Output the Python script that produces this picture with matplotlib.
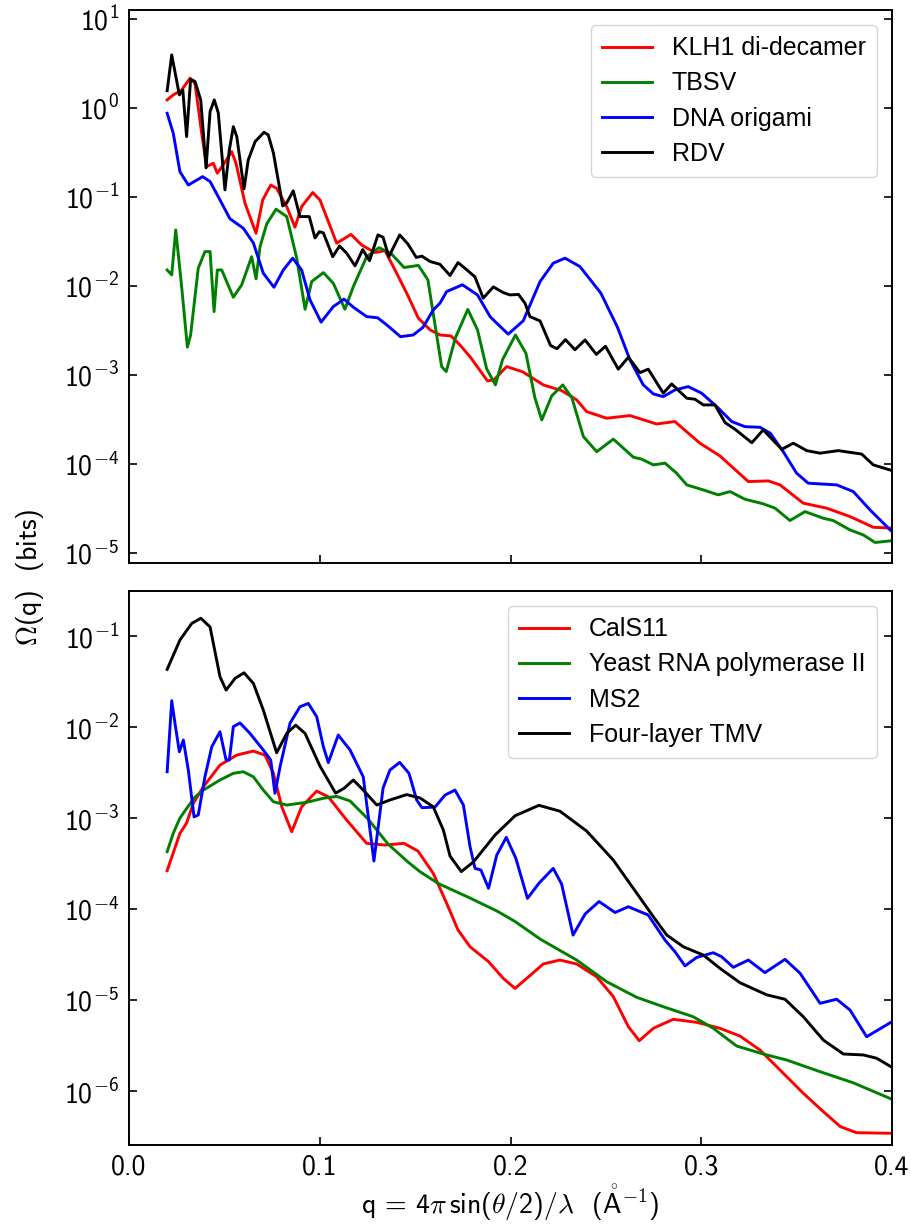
import numpy as np
import matplotlib
matplotlib.use("Agg")
import matplotlib.pyplot as plt
from matplotlib.ticker import NullLocator, FixedLocator, FuncFormatter

plt.rcParams["font.family"] = ["Liberation Sans", "DejaVu Sans"]
plt.rcParams["mathtext.fontset"] = "custom"
plt.rcParams["mathtext.rm"] = "cmss10"
plt.rcParams["mathtext.sf"] = "cmss10"
plt.rcParams["mathtext.it"] = "cmss10"
plt.rcParams["mathtext.bf"] = "cmss10"
plt.rcParams["mathtext.fallback"] = "cm"

# ---------------- upper panel: large assemblies ----------------
klh1_q = [0.0200, 0.0232, 0.0276, 0.0320, 0.0346, 0.0381, 0.0407, 0.0442, 0.0463, 0.0494,
          0.0538, 0.0561, 0.0608, 0.0666, 0.0701, 0.0743, 0.0774, 0.0827, 0.0870, 0.0905,
          0.0963, 0.1001, 0.1089, 0.1164, 0.1219, 0.1290, 0.1342, 0.1403, 0.1456, 0.1517,
          0.1578, 0.1630, 0.1688, 0.1735, 0.1793, 0.1879, 0.1913, 0.1980, 0.2065, 0.2172,
          0.2268, 0.2347, 0.2399, 0.2504, 0.2626, 0.2766, 0.2862, 0.2993, 0.3098, 0.3247,
          0.3352, 0.3413, 0.3535, 0.3658, 0.3780, 0.3902, 0.4000]
klh1_omega = [1.23, 1.40, 1.59, 2.16, 1.89, 0.520, 0.219, 0.239, 0.185, 0.229,
              0.323, 0.239, 0.0850, 0.0391, 0.0925, 0.136, 0.125, 0.0778, 0.0457, 0.0778,
              0.112, 0.0925, 0.0302, 0.0379, 0.0289, 0.0237, 0.0249, 0.0139, 0.00828, 0.00434,
              0.00321, 0.00281, 0.00274, 0.00217, 0.00155, 0.000857, 0.000879, 0.00124, 0.00108, 0.000772,
              0.000667, 0.000524, 0.000387, 0.000326, 0.000349, 0.000281, 0.000299, 0.000171, 0.000123, 0.0000633,
              0.0000644, 0.0000581, 0.0000362, 0.0000318, 0.0000256, 0.0000194, 0.0000190]

tbsv_q = [0.0200, 0.0224, 0.0245, 0.0276, 0.0306, 0.0323, 0.0363, 0.0398, 0.0425, 0.0446,
          0.0463, 0.0486, 0.0547, 0.0591, 0.0643, 0.0666, 0.0687, 0.0722, 0.0771, 0.0827,
          0.0879, 0.0923, 0.0958, 0.1019, 0.1071, 0.1132, 0.1176, 0.1246, 0.1311, 0.1376,
          0.1442, 0.1517, 0.1567, 0.1604, 0.1639, 0.1663, 0.1711, 0.1776, 0.1827, 0.1875,
          0.1921, 0.1958, 0.2026, 0.2081, 0.2128, 0.2164, 0.2216, 0.2274, 0.2322, 0.2382,
          0.2452, 0.2539, 0.2644, 0.2688, 0.2749, 0.2810, 0.2871, 0.2924, 0.3011, 0.3089,
          0.3151, 0.3229, 0.3325, 0.3387, 0.3465, 0.3544, 0.3640, 0.3692, 0.3780, 0.3850,
          0.3911, 0.4000]
tbsv_omega = [0.0151, 0.0133, 0.0426, 0.00982, 0.00205, 0.00281, 0.0158, 0.0243, 0.0243, 0.00514,
              0.0151, 0.0151, 0.00746, 0.0103, 0.0213, 0.0120, 0.0277, 0.0498, 0.0728, 0.0601,
              0.0206, 0.00547, 0.0112, 0.0141, 0.0107, 0.00547, 0.00982, 0.0213, 0.0269, 0.0229,
              0.0161, 0.0170, 0.0117, 0.00369, 0.00124, 0.00109, 0.00261, 0.00544, 0.00321, 0.00117,
              0.000772, 0.00148, 0.00281, 0.00175, 0.000552, 0.000312, 0.000581, 0.000772, 0.000552, 0.000203,
              0.000137, 0.000190, 0.000119, 0.000113, 0.0000975, 0.000102, 0.0000786, 0.0000581, 0.0000510, 0.0000449,
              0.0000489, 0.0000401, 0.0000356, 0.0000318, 0.0000231, 0.0000291, 0.0000245, 0.0000231, 0.0000181, 0.0000159,
              0.0000131, 0.0000137]

origami_q = [0.0200, 0.0232, 0.0267, 0.0311, 0.0386, 0.0425, 0.0477, 0.0529, 0.0599, 0.0652,
             0.0704, 0.0760, 0.0809, 0.0858, 0.0905, 0.0949, 0.1007, 0.1071, 0.1127, 0.1176,
             0.1246, 0.1303, 0.1351, 0.1423, 0.1490, 0.1541, 0.1595, 0.1630, 0.1665, 0.1748,
             0.1827, 0.1893, 0.1928, 0.1988, 0.2067, 0.2155, 0.2224, 0.2286, 0.2364, 0.2474,
             0.2561, 0.2626, 0.2696, 0.2749, 0.2801, 0.2862, 0.2932, 0.3002, 0.3081, 0.3160,
             0.3229, 0.3308, 0.3362, 0.3430, 0.3500, 0.3561, 0.3710, 0.3797, 0.3885, 0.4000]
origami_omega = [0.871, 0.520, 0.192, 0.136, 0.169, 0.149, 0.0925, 0.0569, 0.0445, 0.0304,
                 0.0139, 0.00966, 0.0151, 0.0205, 0.0151, 0.00696, 0.00392, 0.00585, 0.00711, 0.00577,
                 0.00452, 0.00439, 0.00365, 0.00269, 0.00281, 0.00342, 0.00537, 0.00639, 0.00863, 0.0103,
                 0.00792, 0.00452, 0.00381, 0.00287, 0.00406, 0.0112, 0.0180, 0.0205, 0.0165, 0.00828,
                 0.00342, 0.00148, 0.000772, 0.000612, 0.000570, 0.000678, 0.000739, 0.000623, 0.000441, 0.000299,
                 0.000262, 0.000258, 0.000221, 0.000137, 0.0000786, 0.0000607, 0.0000581, 0.0000489, 0.0000304, 0.0000173]

rdv_q = [0.0200, 0.0224, 0.0264, 0.0282, 0.0302, 0.0323, 0.0346, 0.0376, 0.0404, 0.0425,
         0.0447, 0.0468, 0.0503, 0.0526, 0.0547, 0.0565, 0.0603, 0.0625, 0.0661, 0.0708,
         0.0730, 0.0757, 0.0806, 0.0827, 0.0861, 0.0896, 0.0945, 0.0975, 0.0998, 0.1019,
         0.1068, 0.1104, 0.1141, 0.1185, 0.1225, 0.1261, 0.1305, 0.1332, 0.1362, 0.1419,
         0.1462, 0.1506, 0.1536, 0.1578, 0.1630, 0.1683, 0.1725, 0.1772, 0.1814, 0.1857,
         0.1910, 0.1962, 0.1997, 0.2042, 0.2076, 0.2102, 0.2155, 0.2210, 0.2244, 0.2288,
         0.2338, 0.2391, 0.2450, 0.2498, 0.2565, 0.2618, 0.2679, 0.2722, 0.2801, 0.2845,
         0.2924, 0.2967, 0.3011, 0.3072, 0.3125, 0.3177, 0.3265, 0.3325, 0.3422, 0.3483,
         0.3553, 0.3623, 0.3718, 0.3841, 0.3902, 0.4000]
rdv_omega = [1.56, 3.94, 1.40, 1.59, 0.476, 2.10, 1.98, 1.23, 0.212, 0.908,
             1.23, 0.879, 0.120, 0.337, 0.616, 0.476, 0.123, 0.260, 0.418, 0.533,
             0.497, 0.312, 0.0792, 0.0857, 0.117, 0.0601, 0.0601, 0.0346, 0.0407, 0.0394,
             0.0213, 0.0281, 0.0233, 0.0168, 0.0256, 0.0192, 0.0374, 0.0352, 0.0213, 0.0374,
             0.0296, 0.0209, 0.0216, 0.0188, 0.0175, 0.0131, 0.0183, 0.0151, 0.0126, 0.00728,
             0.00975, 0.00841, 0.00792, 0.00802, 0.00639, 0.00452, 0.00404, 0.00214, 0.00197, 0.00249,
             0.00192, 0.00247, 0.00170, 0.00210, 0.00116, 0.00158, 0.00106, 0.00116, 0.000623, 0.000792,
             0.000547, 0.000533, 0.000460, 0.000460, 0.000291, 0.000245, 0.000173, 0.000241, 0.000146, 0.000171,
             0.000141, 0.000132, 0.000141, 0.000129, 0.0000975, 0.0000841]

# ---------------- lower panel: smaller particles ----------------
cals11_q = [0.0200, 0.0267, 0.0302, 0.0337, 0.0390, 0.0477, 0.0565, 0.0652, 0.0713, 0.0757,
            0.0801, 0.0853, 0.0905, 0.0984, 0.1045, 0.1141, 0.1246, 0.1342, 0.1442, 0.1515,
            0.1595, 0.1665, 0.1725, 0.1788, 0.1885, 0.1962, 0.2024, 0.2085, 0.2172, 0.2259,
            0.2347, 0.2452, 0.2539, 0.2618, 0.2675, 0.2749, 0.2853, 0.2976, 0.3098, 0.3203,
            0.3308, 0.3413, 0.3535, 0.3640, 0.3730, 0.3815, 0.4000]
cals11_omega = [0.000264, 0.000679, 0.000881, 0.00145, 0.00221, 0.00382, 0.00492, 0.00545, 0.00492, 0.00310,
                0.00133, 0.000707, 0.00133, 0.00198, 0.00171, 0.000951, 0.000527, 0.000505, 0.000527, 0.000434,
                0.000247, 0.000116, 0.0000588, 0.0000385, 0.0000264, 0.0000173, 0.0000134, 0.0000173, 0.0000249, 0.0000275,
                0.0000249, 0.0000180, 0.0000109, 0.00000509, 0.00000357, 0.00000489, 0.00000614, 0.00000569, 0.00000489, 0.00000402,
                0.00000282, 0.00000170, 0.000000944, 0.000000593, 0.000000405, 0.000000348, 0.000000343]

pol2_q = [0.0200, 0.0232, 0.0267, 0.0304, 0.0346, 0.0390, 0.0477, 0.0547, 0.0599, 0.0652,
          0.0704, 0.0757, 0.0827, 0.0932, 0.1019, 0.1089, 0.1159, 0.1253, 0.1358, 0.1463,
          0.1526, 0.1621, 0.1778, 0.1929, 0.2024, 0.2155, 0.2347, 0.2504, 0.2662, 0.2801,
          0.2958, 0.3063, 0.3186, 0.3325, 0.3448, 0.3623, 0.3797, 0.4000]
pol2_omega = [0.000427, 0.000679, 0.00100, 0.00129, 0.00170, 0.00203, 0.00262, 0.00310, 0.00323, 0.00284,
              0.00203, 0.00151, 0.00139, 0.00149, 0.00165, 0.00173, 0.00154, 0.000975, 0.000518, 0.000328,
              0.000257, 0.000191, 0.000135, 0.0000951, 0.0000729, 0.0000468, 0.0000275, 0.0000159, 0.0000107, 0.00000844,
              0.00000655, 0.00000489, 0.00000312, 0.00000255, 0.00000219, 0.00000163, 0.00000123, 0.000000811]

ms2_q = [0.0200, 0.0224, 0.0241, 0.0264, 0.0285, 0.0311, 0.0341, 0.0363, 0.0398, 0.0434,
         0.0477, 0.0509, 0.0526, 0.0547, 0.0582, 0.0634, 0.0704, 0.0743, 0.0765, 0.0792,
         0.0844, 0.0896, 0.0940, 0.0984, 0.1019, 0.1045, 0.1097, 0.1159, 0.1228, 0.1284,
         0.1332, 0.1368, 0.1419, 0.1468, 0.1508, 0.1536, 0.1604, 0.1657, 0.1709, 0.1753,
         0.1788, 0.1814, 0.1845, 0.1885, 0.1928, 0.1978, 0.2028, 0.2089, 0.2149, 0.2224,
         0.2268, 0.2328, 0.2391, 0.2464, 0.2548, 0.2618, 0.2722, 0.2810, 0.2862, 0.2915,
         0.2976, 0.3063, 0.3107, 0.3168, 0.3247, 0.3334, 0.3439, 0.3518, 0.3623, 0.3710,
         0.3780, 0.3867, 0.4000]
ms2_omega = [0.00323, 0.0195, 0.0110, 0.00535, 0.00720, 0.00337, 0.00103, 0.00108, 0.00284, 0.00608,
             0.00888, 0.00434, 0.00434, 0.0101, 0.0111, 0.00853, 0.00559, 0.00434, 0.00187, 0.00366,
             0.0110, 0.0167, 0.0182, 0.0130, 0.00608, 0.00407, 0.00817, 0.00559, 0.00284, 0.000337,
             0.00214, 0.00337, 0.00409, 0.00310, 0.00158, 0.00130, 0.00132, 0.00179, 0.00203, 0.00139,
             0.000484, 0.000280, 0.000268, 0.000169, 0.000392, 0.000614, 0.000361, 0.000131, 0.000192, 0.000280,
             0.000188, 0.0000518, 0.0000881, 0.000121, 0.0000916, 0.000106, 0.0000859, 0.0000456, 0.0000340, 0.0000237,
             0.0000294, 0.0000331, 0.0000299, 0.0000229, 0.0000275, 0.0000200, 0.0000280, 0.0000197, 0.00000920, 0.0000102,
             0.00000776, 0.00000395, 0.00000578]

tmv_q = [0.0200, 0.0267, 0.0329, 0.0377, 0.0425, 0.0477, 0.0509, 0.0556, 0.0603, 0.0652,
         0.0704, 0.0774, 0.0827, 0.0874, 0.0923, 0.1001, 0.1083, 0.1127, 0.1176, 0.1228,
         0.1299, 0.1368, 0.1456, 0.1526, 0.1595, 0.1648, 0.1683, 0.1742, 0.1805, 0.1919,
         0.2024, 0.2149, 0.2259, 0.2399, 0.2539, 0.2662, 0.2749, 0.2819, 0.2906, 0.3011,
         0.3098, 0.3203, 0.3343, 0.3439, 0.3535, 0.3640, 0.3745, 0.3850, 0.3920, 0.4000]
tmv_omega = [0.0431, 0.0904, 0.138, 0.157, 0.126, 0.0357, 0.0255, 0.0343, 0.0395, 0.0302,
             0.0154, 0.00522, 0.00853, 0.0105, 0.00853, 0.00373, 0.00188, 0.00212, 0.00262, 0.00203,
             0.00139, 0.00158, 0.00181, 0.00166, 0.00133, 0.000738, 0.000382, 0.000258, 0.000328, 0.000650,
             0.00106, 0.00138, 0.00119, 0.000720, 0.000345, 0.000149, 0.0000823, 0.0000518, 0.0000385, 0.0000312,
             0.0000223, 0.0000155, 0.0000114, 0.0000102, 0.00000655, 0.00000363, 0.00000255, 0.00000249, 0.00000229, 0.00000182]

top_series = [("KLH1 di-decamer", klh1_q, klh1_omega, "red"),
              ("TBSV", tbsv_q, tbsv_omega, "green"),
              ("DNA origami", origami_q, origami_omega, "blue"),
              ("RDV", rdv_q, rdv_omega, "black")]
bottom_series = [("CalS11", cals11_q, cals11_omega, "red"),
                 ("Yeast RNA polymerase II", pol2_q, pol2_omega, "green"),
                 ("MS2", ms2_q, ms2_omega, "blue"),
                 ("Four-layer TMV", tmv_q, tmv_omega, "black")]

x_ticks = [0.0, 0.1, 0.2, 0.3, 0.4]

SANS_CM = ["cmss10", "DejaVu Sans"]


def x_label_fmt(v, pos):
    return "%.1f" % v


def y_label_fmt(v, pos):
    return r"$10^{%d}$" % int(round(np.log10(v)))


W, H = 911, 1230
fig = plt.figure(figsize=(W / 100, H / 100), dpi=100)
left, right = 129, 892
ax_top = fig.add_axes([left / W, 1 - 563 / H, (right - left) / W, (563 - 10) / H])
ax_bot = fig.add_axes([left / W, 1 - 1145 / H, (right - left) / W, (1145 - 591) / H])

TICK_FS = 20
LEG_FS = 18
for ax, series, ylim, decades in (
        (ax_top, top_series, (7.7e-6, 12.6), range(-5, 2)),
        (ax_bot, bottom_series, (2.55e-7, 0.313), range(-6, 0))):
    for label, q, om, color in series:
        ax.plot(q, om, color=color, lw=2.1, label=label)
    ax.set_yscale("log")
    ax.set_ylim(*ylim)
    ax.set_xlim(0.0, 0.4)
    ax.yaxis.set_major_locator(FixedLocator([10.0 ** d for d in decades]))
    ax.yaxis.set_minor_locator(NullLocator())
    ax.yaxis.set_major_formatter(FuncFormatter(y_label_fmt))
    ax.xaxis.set_major_locator(FixedLocator(x_ticks))
    ax.xaxis.set_minor_locator(NullLocator())
    ax.xaxis.set_major_formatter(FuncFormatter(x_label_fmt))
    ax.tick_params(axis="both", which="major", direction="in", length=6, width=1.2,
                   labelsize=TICK_FS, left=True, right=True, bottom=True, top=False, pad=7)
    for lbl in ax.get_xticklabels() + ax.get_yticklabels():
        lbl.set_family(SANS_CM)
    for sp in ax.spines.values():
        sp.set_linewidth(1.4)
    leg = ax.legend(loc="upper right", fontsize=LEG_FS, handlelength=2.0,
                    borderaxespad=0.6, labelspacing=0.45, handletextpad=0.8,
                    borderpad=0.45)
    leg.get_frame().set_linewidth(1.0)

ax_top.tick_params(labelbottom=False)
ax_bot.set_xlabel(r"q = 4$\pi\,$sin($\theta$/2)/$\lambda$  ($\mathring{\mathsf{A}}^{-1}$)",
                  fontsize=TICK_FS, labelpad=2, family=SANS_CM, math_fontfamily="cm")
fig.text(0.033, 1 - 577 / H, r"$\Omega$(q)  (bits)", rotation=90,
         fontsize=TICK_FS, ha="center", va="center", family=SANS_CM, math_fontfamily="cm")

fig.savefig("out.png", dpi=100)
